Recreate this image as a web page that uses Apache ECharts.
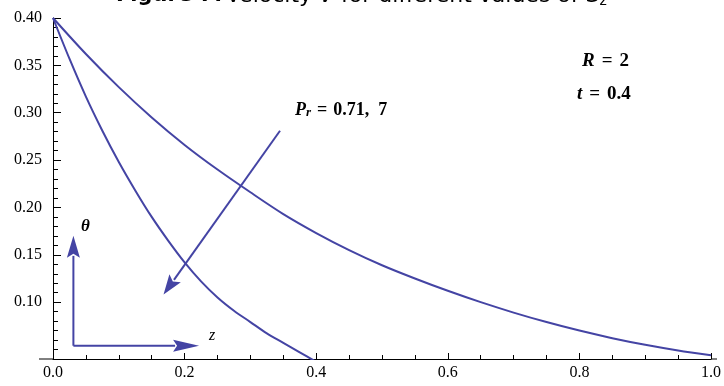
<!DOCTYPE html>
<html>
<head>
<meta charset="utf-8">
<script src="https://cdn.jsdelivr.net/npm/echarts@6/dist/echarts.min.js"></script>
<style>html,body{margin:0;padding:0;background:#fff}</style>
</head>
<body>
<div id="main" style="width:724px;height:386px;"></div>
<script>
// z values and temperature profiles
var zPr071 = [0, 0.05, 0.10, 0.15, 0.20, 0.25, 0.30, 0.35, 0.40, 0.45, 0.50, 0.55, 0.60, 0.65, 0.70, 0.75, 0.80, 0.85, 0.90, 0.95, 1.00];
var thetaPr071 = [0.400, 0.362, 0.327, 0.295, 0.266, 0.240, 0.216, 0.193, 0.173, 0.155, 0.139, 0.125, 0.112, 0.100, 0.089, 0.079, 0.070, 0.062, 0.055, 0.049, 0.044];
var zPr7 = [0, 0.025, 0.05, 0.075, 0.10, 0.125, 0.15, 0.175, 0.20, 0.225, 0.25, 0.275, 0.30, 0.325, 0.35, 0.375, 0.40];
var thetaPr7 = [0.400, 0.357, 0.317, 0.281, 0.248, 0.218, 0.190, 0.165, 0.142, 0.122, 0.105, 0.091, 0.079, 0.067, 0.057, 0.047, 0.037];

var xTicks = [0, 0.2, 0.4, 0.6, 0.8, 1.0];
var yTicks = [0.10, 0.15, 0.20, 0.25, 0.30, 0.35, 0.40];
var yMinorTicks = [0.05, 0.06, 0.07, 0.08, 0.09, 0.11, 0.12, 0.13, 0.14, 0.16, 0.17, 0.18, 0.19,
  0.21, 0.22, 0.23, 0.24, 0.26, 0.27, 0.28, 0.29, 0.31, 0.32, 0.33, 0.34, 0.36, 0.37, 0.38, 0.39];

// annotation arrows (data coords): [from, to]
var prArrow = [[0.345, 0.281], [0.168, 0.108]];
var thetaArrow = [[0.031, 0.054], [0.031, 0.170]];
var zArrow = [[0.031, 0.054], [0.222, 0.054]];

var curveColor = '#4444a4';
var serif = '"Liberation Serif", "DejaVu Serif", serif';

function pairs(xs, ys) {
  return xs.map(function (x, i) { return [x, ys[i]]; });
}

var chart = echarts.init(document.getElementById('main'));

var option = {
  animation: false,
  backgroundColor: '#fff',
  grid: { left: 53, right: 11, top: 18, bottom: 27, containLabel: false },
  xAxis: {
    type: 'value',
    min: 0,
    max: 1,
    interval: 0.2,
    axisLine: { lineStyle: { color: '#000', width: 1 } },
    axisTick: { inside: true, length: 6, lineStyle: { color: '#000' } },
    minorTick: { show: true, splitNumber: 4, length: 4, lineStyle: { color: '#000' } },
    splitLine: { show: false },
    axisLabel: {
      margin: 6,
      color: '#000',
      fontFamily: serif,
      fontSize: 16,
      formatter: function (v) { return v.toFixed(1); }
    }
  },
  yAxis: [{
    type: 'value',
    min: 0.04,
    max: 0.40,
    axisLine: { show: true, lineStyle: { color: '#000', width: 1 } },
    axisTick: { show: true, inside: true, length: 8, customValues: yTicks, lineStyle: { color: '#000' } },
    splitLine: { show: false },
    axisLabel: {
      customValues: yTicks,
      margin: 11,
      color: '#000',
      fontFamily: serif,
      fontSize: 16,
      formatter: function (v) { return v.toFixed(2); }
    }
  }, {
    type: 'value',
    min: 0.04,
    max: 0.40,
    position: 'left',
    axisLine: { show: false },
    axisTick: { show: true, inside: true, length: 5, customValues: yMinorTicks, lineStyle: { color: '#000' } },
    axisLabel: { show: false },
    splitLine: { show: false }
  }],
  series: [{
    name: 'Pr = 0.71',
    type: 'line',
    data: pairs(zPr071, thetaPr071),
    smooth: 0.3,
    showSymbol: false,
    lineStyle: { color: curveColor, width: 2 }
  }, {
    name: 'Pr = 7',
    type: 'line',
    data: pairs(zPr7, thetaPr7),
    smooth: 0.3,
    showSymbol: false,
    clip: true,
    lineStyle: { color: curveColor, width: 2 }
  }]
};
chart.setOption(option);

function px(p) { return chart.convertToPixel({ gridIndex: 0 }, p); }

function arrow(spec, headLen, headW) {
  var a = px(spec[0]), b = px(spec[1]);
  var dx = b[0] - a[0], dy = b[1] - a[1];
  var len = Math.sqrt(dx * dx + dy * dy);
  var ux = dx / len, uy = dy / len;
  var bx = b[0] - ux * headLen, by = b[1] - uy * headLen;
  var nx = -uy * headW / 2, ny = ux * headW / 2;
  return [{
    type: 'line',
    shape: { x1: a[0], y1: a[1], x2: bx + ux * 2, y2: by + uy * 2 },
    style: { stroke: curveColor, lineWidth: 2 }
  }, {
    type: 'polygon',
    shape: { points: [[b[0], b[1]], [bx + nx, by + ny], [bx + ux * 4, by + uy * 4], [bx - nx, by - ny]] },
    style: { fill: curveColor }
  }];
}

var origin = px([0, 0.04]);
var top = px([0, 0.40]);
var right = px([1, 0.04]);

var graphics = []
  .concat(arrow(prArrow, 20, 14))
  .concat(arrow(thetaArrow, 22, 13))
  .concat(arrow(zArrow, 26, 12));

var boldSerif = { fontFamily: serif, fontWeight: 'bold', fill: '#000' };
function rt(extra) { return Object.assign({}, boldSerif, extra); }

graphics.push(
  // axis line extensions (Mathematica style)
  { type: 'line', shape: { x1: 39, y1: origin[1], x2: origin[0], y2: origin[1] }, style: { stroke: '#000', lineWidth: 1 } },
  { type: 'line', shape: { x1: origin[0], y1: 11, x2: origin[0], y2: top[1] }, style: { stroke: '#000', lineWidth: 1 } },
  { type: 'line', shape: { x1: right[0], y1: origin[1], x2: right[0] + 6, y2: origin[1] }, style: { stroke: '#000', lineWidth: 1 } },
  // cut-off caption at the top
  {
    type: 'text', left: 116, top: -15,
    style: {
      text: '{b|Figure 7:} {n|Velocity }{i|V}{n| for different values of }{n|S}{s|z}',
      rich: {
        b: { fontFamily: '"DejaVu Sans"', fontWeight: 'bold', fontSize: 21, fill: '#000' },
        n: { fontFamily: '"DejaVu Sans"', fontSize: 22, fill: '#000' },
        i: { fontFamily: '"DejaVu Sans"', fontStyle: 'italic', fontSize: 22, fill: '#000' },
        s: { fontFamily: '"DejaVu Sans"', fontSize: 14, fill: '#000', padding: [10, 0, 0, 0] }
      }
    }
  },
  {
    type: 'text', left: 582, top: 52,
    style: {
      text: '{i|R}{b|=}{v|2}',
      rich: {
        i: rt({ fontStyle: 'italic', fontSize: 19 }),
        b: rt({ fontSize: 19, padding: [0, 7, 0, 7] }),
        v: rt({ fontSize: 19 })
      }
    }
  },
  {
    type: 'text', left: 577, top: 85,
    style: {
      text: '{i|t}{b|=}{v|0.4}',
      rich: {
        i: rt({ fontStyle: 'italic', fontSize: 19 }),
        b: rt({ fontSize: 19, padding: [0, 7, 0, 7] }),
        v: rt({ fontSize: 19 })
      }
    }
  },
  {
    type: 'text', left: 295, top: 101,
    style: {
      text: '{i|P}{s|r}{b|=}{v|0.71,}{w|7}',
      rich: {
        i: rt({ fontStyle: 'italic', fontSize: 18 }),
        s: rt({ fontStyle: 'italic', fontSize: 13, padding: [6, 0, 0, 0] }),
        b: rt({ fontSize: 18, padding: [0, 6, 0, 6] }),
        v: rt({ fontSize: 18 }),
        w: rt({ fontSize: 18, padding: [0, 0, 0, 9] })
      }
    }
  },
  {
    type: 'text', left: 81, top: 218,
    style: { text: 'θ', fontFamily: serif, fontWeight: 'bold', fontStyle: 'italic', fontSize: 17, fill: '#000' }
  },
  {
    type: 'text', left: 209, top: 328,
    style: { text: 'z', fontFamily: serif, fontStyle: 'italic', fontSize: 16, fill: '#000' }
  }
);

chart.setOption({ graphic: graphics });
</script>
</body>
</html>
